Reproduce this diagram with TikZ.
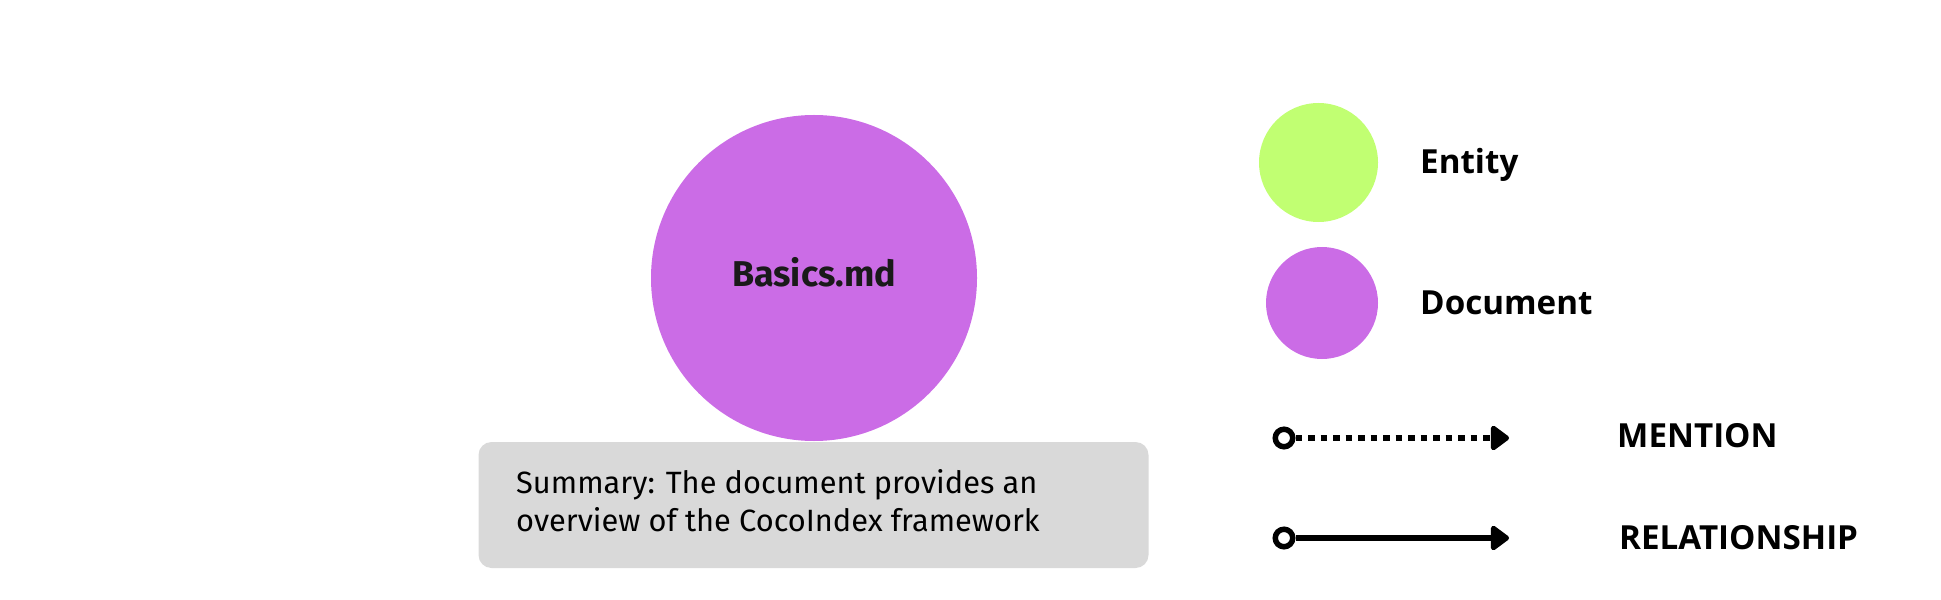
\documentclass[tikz,border=0pt]{standalone}
\usepackage{fontspec}
\setmainfont{Fira Sans}
\newfontfamily\legendfont{Open Sans}
\usetikzlibrary{arrows.meta}
\definecolor{docpurple}{HTML}{CB6CE6}
\definecolor{entgreen}{HTML}{C1FF72}
\definecolor{sumgray}{HTML}{D9D9D9}
\definecolor{darktext}{HTML}{1A1A1A}
\tikzset{
  blob/.style={circle, inner sep=0pt, draw=none},
  legendlabel/.style={anchor=base west, inner sep=0pt, font=\legendfont\bfseries\fontsize{33.3}{40}\selectfont},
  startdot/.style={circle, draw=black, line width=5.5bp, minimum size=17.5bp, inner sep=0pt},
  tipstyle/.style={-{Triangle[length=20bp,width=28bp,round]}},
  mentionline/.style={tipstyle, line width=6.5bp, dash pattern=on 6.5bp off 6bp},
  relline/.style={tipstyle, line width=6bp},
}
\begin{document}
\begin{tikzpicture}[x=1bp,y=-1bp]
\path[use as bounding box] (0,0) rectangle (1941,600);
% summary box
\node[fill=sumgray, rounded corners=13bp, minimum width=670bp, minimum height=126bp, inner sep=0pt] (sumbox) at (813.5,505) {};
\node[anchor=base west, inner sep=0pt, align=left, font=\fontsize{30.9}{38}\selectfont] (sumtext1) at (516,493) {Summary: The document provides an};
\node[anchor=base west, inner sep=0pt, align=left, font=\fontsize{30.9}{38}\selectfont] (sumtext2) at (516,531) {overview of the CocoIndex framework};
% main document node
\node[blob, fill=docpurple, minimum size=326bp] (basics) at (814,278) {};
\node[anchor=base, inner sep=0pt, text=darktext, font=\bfseries\fontsize{36}{42}\selectfont] (basicslabel) at (814,287) {Basics.md};
% legend circles
\node[blob, fill=entgreen, minimum size=119bp] (entdot) at (1318.5,162.5) {};
\node[legendlabel] (entlabel) at (1420,174) {Entity};
\node[blob, fill=docpurple, minimum size=112bp] (docdot) at (1322,303) {};
\node[legendlabel] (doclabel) at (1420,314) {Document};
% legend arrows
\node[startdot] (mstart) at (1284,438) {};
\coordinate (mend) at (1509,438);
\draw[mentionline] (mstart.east) -- (mend);
\node[legendlabel] (mlabel) at (1617,447) {MENTION};
\node[startdot] (rstart) at (1284,538) {};
\coordinate (rend) at (1509,538);
\draw[relline] (rstart.east) -- (rend);
\node[legendlabel] (rlabel) at (1619,549) {RELATIONSHIP};
\end{tikzpicture}
\end{document}
